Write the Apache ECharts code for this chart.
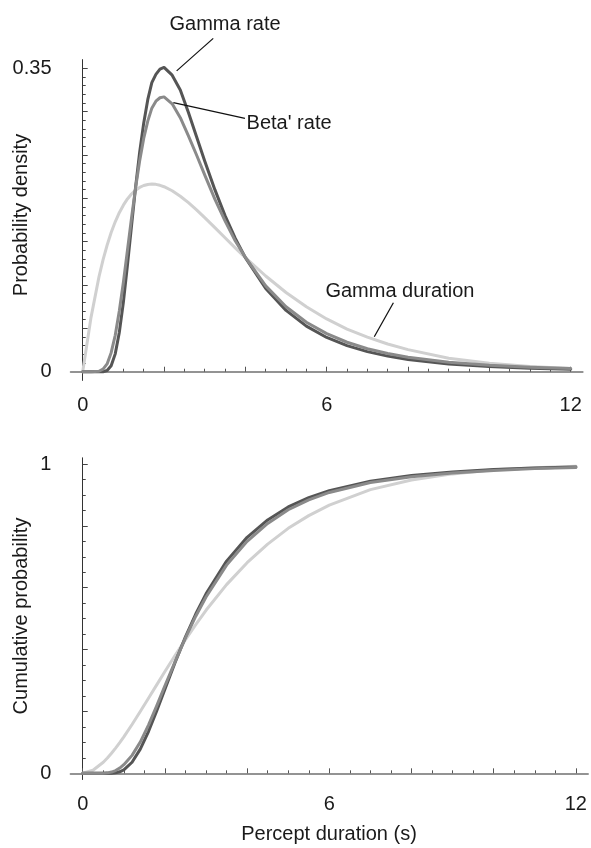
<!DOCTYPE html>
<html>
<head>
<meta charset="utf-8">
<script src="https://cdn.jsdelivr.net/npm/echarts@6.0.0/dist/echarts.min.js"></script>
<style>
html,body{margin:0;padding:0;background:#fff;}
#chart{width:591px;height:848px;}
</style>
</head>
<body>
<div id="chart"></div>
<script>
// ---------- data ----------
const pdfX = [0, 0.2, 0.4, 0.5, 0.6, 0.7, 0.8, 0.9, 1.0, 1.1, 1.2, 1.3, 1.4, 1.5, 1.6, 1.7, 1.8, 1.9, 2.0, 2.2, 2.4, 2.6, 2.8, 3.0, 3.25, 3.5, 3.75, 4.0, 4.5, 5.0, 5.5, 6.0, 6.5, 7.0, 7.5, 8.0, 9.0, 10.0, 11.0, 12.0];
const pdfGammaRate = [0, 0, 0, 0, 0.0014, 0.0069, 0.0206, 0.0453, 0.080, 0.1227, 0.168, 0.2126, 0.253, 0.2867, 0.3138, 0.3335, 0.343, 0.349, 0.351, 0.342, 0.325, 0.299, 0.271, 0.243, 0.210, 0.180, 0.154, 0.1316, 0.0961, 0.0707, 0.0526, 0.0395, 0.0301, 0.0232, 0.0180, 0.0142, 0.0090, 0.0059, 0.0040, 0.0028];
const pdfBetaRate = [0, 0, 0.0005, 0.003, 0.009, 0.022, 0.042, 0.070, 0.103, 0.140, 0.177, 0.212, 0.243, 0.269, 0.289, 0.304, 0.312, 0.316, 0.317, 0.309, 0.293, 0.272, 0.250, 0.227, 0.199, 0.174, 0.151, 0.132, 0.099, 0.075, 0.057, 0.044, 0.034, 0.0265, 0.021, 0.0168, 0.011, 0.0075, 0.0053, 0.0038];
const pdfGammaDuration = [0, 0.0615, 0.1094, 0.1289, 0.1459, 0.1605, 0.1729, 0.1834, 0.1921, 0.1993, 0.205, 0.2094, 0.2126, 0.2148, 0.216, 0.2164, 0.2161, 0.215, 0.2134, 0.2087, 0.2024, 0.195, 0.1866, 0.1777, 0.1662, 0.1545, 0.1429, 0.1316, 0.1104, 0.0914, 0.0749, 0.0609, 0.0492, 0.040, 0.032, 0.0255, 0.0156, 0.0097, 0.0059, 0.0036];

const cdfX = [0, 0.25, 0.5, 0.6, 0.7, 0.8, 0.9, 1.0, 1.2, 1.4, 1.6, 1.8, 2.0, 2.25, 2.5, 2.75, 3.0, 3.5, 4.0, 4.5, 5.0, 5.5, 6.0, 7.0, 8.0, 9.0, 10.0, 11.0, 12.0];
const cdfGammaRate = [0, 0, 0, 0.0001, 0.0004, 0.0017, 0.0049, 0.0111, 0.0357, 0.0782, 0.135, 0.2017, 0.272, 0.3595, 0.441, 0.515, 0.580, 0.686, 0.763, 0.819, 0.861, 0.891, 0.914, 0.9445, 0.963, 0.974, 0.982, 0.987, 0.990];
const cdfBetaRate = [0, 0, 0.0002, 0.0015, 0.004, 0.009, 0.017, 0.028, 0.058, 0.101, 0.156, 0.218, 0.283, 0.362, 0.438, 0.508, 0.570, 0.673, 0.750, 0.808, 0.852, 0.884, 0.908, 0.940, 0.959, 0.971, 0.979, 0.985, 0.989];
const cdfGammaDuration = [0, 0.0098, 0.0357, 0.0494, 0.0647, 0.0815, 0.0992, 0.118, 0.1577, 0.1997, 0.2426, 0.2858, 0.329, 0.3815, 0.432, 0.4809, 0.527, 0.610, 0.681, 0.741, 0.792, 0.833, 0.867, 0.917, 0.948, 0.968, 0.981, 0.988, 0.993];

const xLabels = [0, 6, 12];
const xMajorTicks = [0, 2, 4, 6, 8, 10, 12];
const xMinorTicks = [0.5, 1, 1.5, 2.5, 3, 3.5, 4.5, 5, 5.5, 6.5, 7, 7.5, 8.5, 9, 9.5, 10.5, 11, 11.5];
const pdfYLabels = [0, 0.35];
const pdfYMajorTicks = [0, 0.05, 0.1, 0.15, 0.2, 0.25, 0.3, 0.35];
const pdfYMinorTicks = [0.01, 0.02, 0.03, 0.04, 0.06, 0.07, 0.08, 0.09, 0.11, 0.12, 0.13, 0.14, 0.16, 0.17, 0.18, 0.19, 0.21, 0.22, 0.23, 0.24, 0.26, 0.27, 0.28, 0.29, 0.31, 0.32, 0.33, 0.34];
const cdfYLabels = [0, 1];
const cdfYMajorTicks = [0, 0.2, 0.4, 0.6, 0.8, 1];
const cdfYMinorTicks = [0.05, 0.1, 0.15, 0.25, 0.3, 0.35, 0.45, 0.5, 0.55, 0.65, 0.7, 0.75, 0.85, 0.9, 0.95];

// drawing order: light first, then dark, medium on top
const seriesNames = ['Gamma duration', 'Gamma rate', "Beta' rate"];
const seriesColors = ['#d0d0d0', '#555555', '#8a8a8a'];

// ---------- chart ----------
const FONT = '"Liberation Sans", Arial, Helvetica, sans-serif';
const TXT = '#1a1a1a';
const chart = echarts.init(document.getElementById('chart'), null, {renderer: 'canvas'});

function pairs(xs, ys) { return xs.map((x, i) => [x, ys[i]]); }

function xAxes(gridIndex) {
  const common = {type: 'value', gridIndex, min: -0.3, max: 12.3, position: 'bottom', splitLine: {show: false}};
  return [
    Object.assign({}, common, {
      axisLine: {show: true, onZero: true, lineStyle: {color: '#707070', width: 1.5}},
      axisTick: {show: true, inside: true, length: 5, customValues: xMajorTicks, lineStyle: {color: '#555', width: 1}},
      axisLabel: {show: true, customValues: xLabels, margin: 15, fontSize: 20, color: TXT, fontFamily: FONT}
    }),
    Object.assign({}, common, {
      axisLine: {show: true, onZero: true, lineStyle: {color: '#707070', width: 1.5, opacity: 0}},
      axisTick: {show: true, inside: true, length: 3, customValues: xMinorTicks, lineStyle: {color: '#555', width: 1}},
      axisLabel: {show: false}
    })
  ];
}
function yAxes(gridIndex, min, max, labels, major, minor) {
  const common = {type: 'value', gridIndex, min, max, position: 'left', splitLine: {show: false}};
  return [
    Object.assign({}, common, {
      axisLine: {show: true, onZero: true, lineStyle: {color: '#333', width: 1}},
      axisTick: {show: true, inside: true, length: 5, customValues: major, lineStyle: {color: '#444', width: 1}},
      axisLabel: {show: true, customValues: labels, margin: 19, fontSize: 20, color: TXT, fontFamily: FONT}
    }),
    Object.assign({}, common, {
      axisLine: {show: true, onZero: true, lineStyle: {color: '#333', width: 1, opacity: 0}},
      axisTick: {show: true, inside: true, length: 3, customValues: minor, lineStyle: {color: '#444', width: 1}},
      axisLabel: {show: false}
    })
  ];
}

function line(name, color, data, xi, yi) {
  return {
    type: 'line', name, data, xAxisIndex: xi, yAxisIndex: yi,
    showSymbol: false, symbol: 'none', smooth: false,
    lineStyle: {color, width: 3, cap: 'round', join: 'round'},
    emphasis: {disabled: true}, silent: true, z: 3
  };
}

const pdfSeries = [pdfGammaDuration, pdfGammaRate, pdfBetaRate];
const cdfSeries = [cdfGammaDuration, cdfGammaRate, cdfBetaRate];

const option = {
  animation: false,
  backgroundColor: '#ffffff',
  grid: [
    {left: 70.5, top: 59.6, width: 512.4, height: 320.8, containLabel: false, outerBoundsMode: 'none'},
    {left: 70.4, top: 457.8, width: 517.8, height: 321.7, containLabel: false, outerBoundsMode: 'none'}
  ],
  xAxis: [].concat(xAxes(0), xAxes(1)),
  yAxis: [].concat(
    yAxes(0, -0.01, 0.36, pdfYLabels, pdfYMajorTicks, pdfYMinorTicks),
    yAxes(1, -0.02, 1.02, cdfYLabels, cdfYMajorTicks, cdfYMinorTicks)
  ),
  series: [].concat(
    seriesNames.map((n, i) => line(n, seriesColors[i], pairs(pdfX, pdfSeries[i]), 0, 0)),
    seriesNames.map((n, i) => line(n, seriesColors[i], pairs(cdfX, cdfSeries[i]), 2, 2))
  )
};
chart.setOption(option);

// ---------- annotations (anchored in data coordinates) ----------
function px(pt) { return chart.convertToPixel({gridIndex: 0}, pt); }
const annotations = [
  {text: 'Gamma rate', at: [3.50, 0.401], align: 'center', from: [3.21, 0.3845], to: [2.31, 0.347]},
  {text: "Beta' rate", at: [4.03, 0.2865], align: 'left', from: [3.99, 0.2923], to: [2.23, 0.3103]},
  {text: 'Gamma duration', at: [7.80, 0.0931], align: 'center', from: [7.64, 0.0796], to: [7.17, 0.0404]}
];
const graphics = [];
annotations.forEach(a => {
  const p = px(a.at), f = px(a.from), t = px(a.to);
  graphics.push({type: 'line', shape: {x1: f[0], y1: f[1], x2: t[0], y2: t[1]}, style: {stroke: '#111', lineWidth: 1.2}, z: 10});
  graphics.push({type: 'text', x: p[0], y: p[1], style: {text: a.text, font: '20px ' + FONT, fill: TXT, align: a.align, verticalAlign: 'middle'}, z: 10});
});
graphics.push({type: 'text', x: 21, y: 215, rotation: Math.PI / 2, style: {text: 'Probability density', font: '20px ' + FONT, fill: TXT, align: 'center', verticalAlign: 'middle'}});
graphics.push({type: 'text', x: 21, y: 616, rotation: Math.PI / 2, style: {text: 'Cumulative probability', font: '20px ' + FONT, fill: TXT, align: 'center', verticalAlign: 'middle'}});
graphics.push({type: 'text', x: 329, y: 834, style: {text: 'Percept duration (s)', font: '20px ' + FONT, fill: TXT, align: 'center', verticalAlign: 'middle'}});
chart.setOption({graphic: graphics});
</script>
</body>
</html>
